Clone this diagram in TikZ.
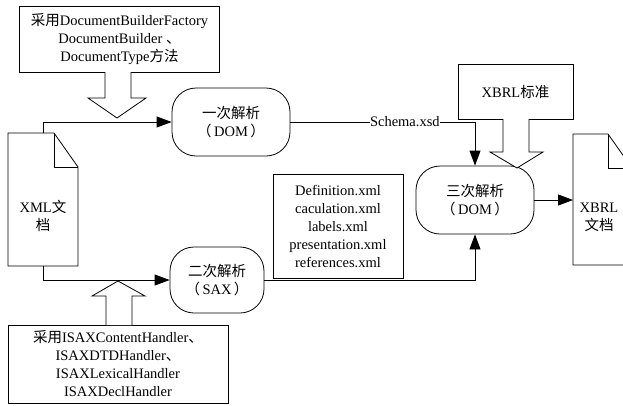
\documentclass[tikz,border=0pt]{standalone}
\usepackage{fontspec}
\setmainfont{Liberation Serif}
\newfontfamily\cjk{Noto Sans CJK SC}
\usetikzlibrary{arrows.meta}

\tikzset{
  box/.style={draw, line width=0.8pt, align=center, inner sep=2pt},
  stage/.style={draw, line width=0.8pt, rounded corners=24pt, align=center,
                minimum width=118pt, minimum height=68pt},
  link/.style={line width=0.8pt, -{Triangle[length=15pt,width=11pt]}},
  fat/.style={draw, line width=0.8pt, fill=white}
}

\begin{document}
\begin{tikzpicture}[x=1pt, y=-1pt, font=\fontsize{14.5pt}{18pt}\selectfont]

\useasboundingbox (0,0) rectangle (623,405);
\clip (0,0) rectangle (623,405);

% Method boxes
\node[box, minimum width=200pt, minimum height=66pt] (dombox) at (119.5,39)
  {{\cjk 采用}DocumentBuilderFactory\\DocumentBuilder {\cjk 、}\\DocumentType{\cjk 方法}};
\node[box, minimum width=220pt, minimum height=78pt] (saxbox) at (118,364)
  {{\cjk 采用}ISAXContentHandler{\cjk 、}\\ISAXDTDHandler{\cjk 、}\\ISAXLexicalHandler\\ISAXDeclHandler};
\node[box, minimum width=115pt, minimum height=55pt] (xbrlstd) at (515.5,91.5)
  {XBRL{\cjk 标准}};
\node[box, minimum width=130pt, minimum height=104pt] (files) at (338,226)
  {Definition.xml\\caculation.xml\\labels.xml\\presentation.xml\\references.xml};

% Parsing stages
\node[stage] (dom1) at (231,122) {{\cjk 一次解析}\\{\cjk （}\,DOM\,{\cjk ）}};
\node[stage, minimum width=94pt, minimum height=66pt] (sax2) at (217,280)
  {{\cjk 二次解析}\\{\cjk （}\,SAX\,{\cjk ）}};
\node[stage] (dom3) at (475,200) {{\cjk 三次解析}\\{\cjk （}\,DOM\,{\cjk ）}};

% Documents
\draw[line width=0.8pt] (8,266) -- (8,133) -- (54,133) -- (78,167) -- (78,266) -- cycle;
\draw[line width=0.8pt] (54,133) -- (54,167) -- (78,167);
\node[align=center] (xmldoc) at (43,216) {XML{\cjk 文}\\{\cjk 档}};

\draw[line width=0.8pt] (573,265) -- (573,134) -- (608,134) -- (632,168) -- (632,265) -- cycle;
\draw[line width=0.8pt] (608,134) -- (608,168) -- (632,168);
\node[align=center] (xbrldoc) at (599,217) {XBRL\\{\cjk 文档}};

\coordinate (xmltop) at (43,133);
\coordinate (xmlbot) at (43,266);
\coordinate (xbrlin) at (573,200);

% Connectors
\draw[link] (xmltop) |- (dom1);
\draw[link] (xmlbot) |- (sax2);
\draw[link] (dom1) -| node[pos=0.31, fill=white, inner sep=0pt] {Schema.xsd} (dom3);
\draw[link] (sax2) -| (dom3);
\draw[link] (dom3) -- (xbrlin);

% Hollow arrows
\draw[fat] (105,72) -- (105,98) -- (88,98) -- (117,118) -- (146,98) -- (131,98) -- (131,72);
\draw[fat] (503,119) -- (503,152) -- (490,152) -- (517,168) -- (543,152) -- (529,152) -- (529,119);
\draw[fat] (106,325) -- (106,296) -- (92,296) -- (118,281) -- (145,296) -- (132,296) -- (132,325);

\end{tikzpicture}
\end{document}
